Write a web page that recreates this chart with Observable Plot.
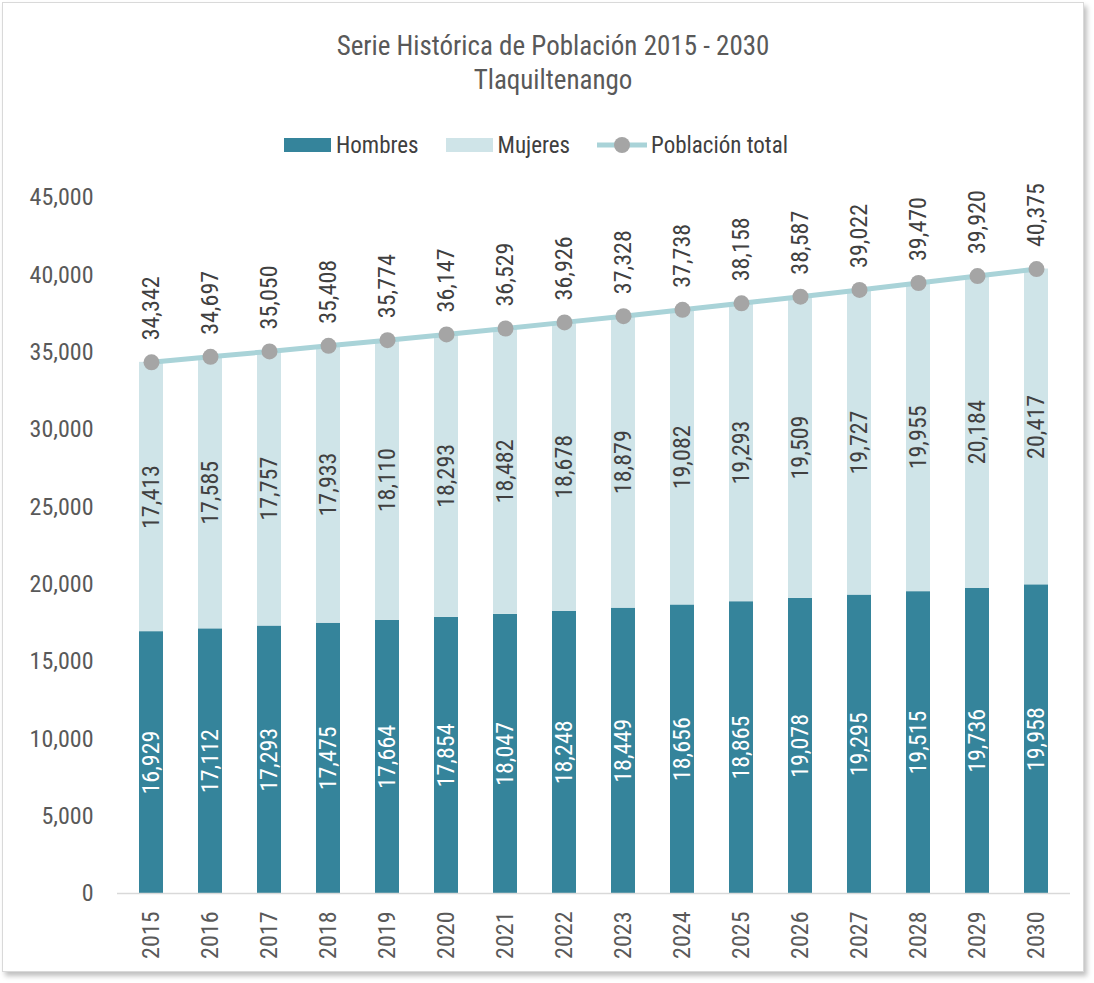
<!DOCTYPE html>
<html>
<head>
<meta charset="utf-8">
<script src="https://cdn.jsdelivr.net/npm/d3@7"></script>
<script src="https://cdn.jsdelivr.net/npm/@observablehq/plot@0.6"></script>
<style>
  html, body { margin: 0; padding: 0; background: #fff; }
  body { width: 1094px; height: 983px; position: relative; overflow: hidden;
         font-family: "Roboto Condensed", "DejaVu Sans Condensed", sans-serif; font-weight: 400; color: #595959; }
  #frame { position: absolute; left: 2px; top: 2px; width: 1080px; height: 968px;
           border: 1px solid #d9d9d9; box-shadow: 3px 4px 5px rgba(0,0,0,0.25); background: #fff; }
  #title { position: absolute; left: 0; top: 29px; width: 1106px; text-align: center; font-size: 27px; line-height: 34px; color: #595959; }
  #legend { position: absolute; top: 130px; left: 284px; height: 30px; display: flex; align-items: center; font-size: 23px; color: #404040; }
  .sw { display: inline-block; width: 47px; height: 14px; margin-right: 5px; }
  .item { display: flex; align-items: center; margin-right: 27px; }
  #chart { position: absolute; left: 0; top: 160px; }
</style>
</head>
<body>
<div id="frame"></div>
<div id="title">Serie Histórica de Población 2015 - 2030<br>Tlaquiltenango</div>
<div id="legend">
  <div class="item"><span class="sw" style="background:#35849B"></span>Hombres</div>
  <div class="item"><span class="sw" style="background:#CFE4E8"></span>Mujeres</div>
  <div class="item" style="margin-right:0">
    <svg width="50" height="20" style="margin-right:4px"><line x1="0" x2="50" y1="10" y2="10" stroke="#A9D3D8" stroke-width="5"/><circle cx="25" cy="10" r="8" fill="#A5A5A5"/></svg>Población total</div>
</div>
<div id="chart"></div>
<script>
const years = ["2015","2016","2017","2018","2019","2020","2021","2022","2023","2024","2025","2026","2027","2028","2029","2030"];
const hombres = [16929,17112,17293,17475,17664,17854,18047,18248,18449,18656,18865,19078,19295,19515,19736,19958];
const mujeres = [17413,17585,17757,17933,18110,18293,18482,18678,18879,19082,19293,19509,19727,19955,20184,20417];
const total = [34342,34697,35050,35408,35774,36147,36529,36926,37328,37738,38158,38587,39022,39470,39920,40375];

const rows = years.map((y, i) => ({year: y, h: hombres[i], m: mujeres[i], t: total[i]}));
const stacked = [];
rows.forEach(r => {
  stacked.push({year: r.year, serie: "Hombres", value: r.h});
  stacked.push({year: r.year, serie: "Mujeres", value: r.m});
});
const fmt = d3.format(",");
const font = '"Roboto Condensed", "DejaVu Sans Condensed", sans-serif';

const chart = Plot.plot({
  width: 1094,
  height: 820,
  marginTop: 37,
  marginBottom: 87,
  marginLeft: 117,
  marginRight: 24,
  style: {fontFamily: font, fontSize: "24px", color: "#595959", background: "transparent"},
  x: {domain: years, paddingInner: 0.59, paddingOuter: 0.25, label: null, tickSize: 0, tickPadding: 18, tickRotate: -90},
  y: {domain: [0, 45000], ticks: d3.range(0, 45001, 5000), tickFormat: fmt, label: null, tickSize: 0, tickPadding: 24},
  color: {domain: ["Hombres", "Mujeres"], range: ["#35849B", "#CFE4E8"]},
  marks: [
    Plot.barY(stacked, {x: "year", y: "value", fill: "serie", order: ["Hombres", "Mujeres"]}),
    Plot.ruleY([0], {stroke: "#d9d9d9", strokeWidth: 1.5}),
    Plot.text(rows, {x: "year", y: d => d.h / 2, text: d => fmt(d.h), rotate: -90, fill: "#ffffff", fontSize: 24}),
    Plot.text(rows, {x: "year", y: d => d.h + d.m / 2, text: d => fmt(d.m), rotate: -90, fill: "#404040", fontSize: 24}),
    Plot.line(rows, {x: "year", y: "t", stroke: "#A9D3D8", strokeWidth: 5}),
    Plot.dot(rows, {x: "year", y: "t", r: 8, fill: "#A5A5A5"}),
    Plot.text(rows, {x: "year", y: "t", text: d => fmt(d.t), rotate: -90, textAnchor: "start", dy: -22, fill: "#404040", fontSize: 24})
  ]
});
document.getElementById("chart").appendChild(chart);
</script>
</body>
</html>
